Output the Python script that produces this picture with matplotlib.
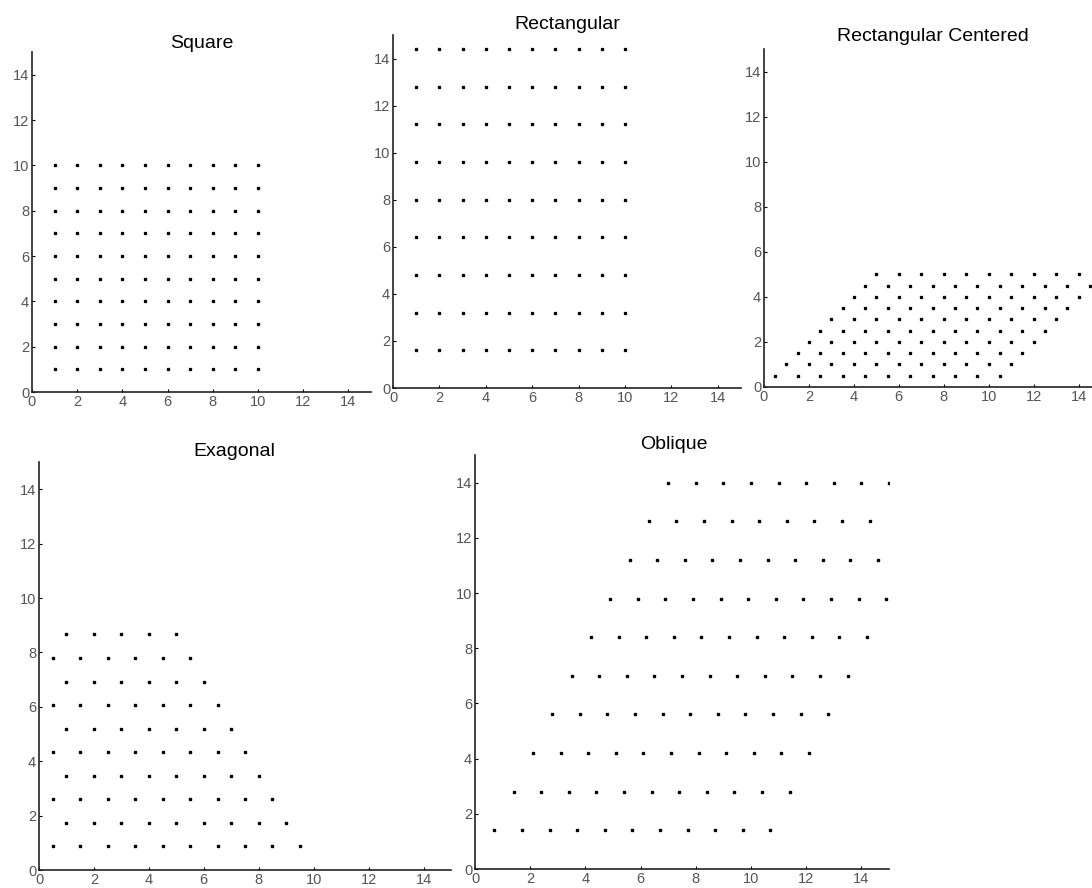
import numpy as np
import matplotlib
matplotlib.use("Agg")
import matplotlib.pyplot as plt

plt.rcParams["font.family"] = ["Liberation Sans", "DejaVu Sans"]

# square lattice: unit spacing
square_x = [1, 2, 3, 4, 5, 6, 7, 8, 9, 10]
square_y = [1, 2, 3, 4, 5, 6, 7, 8, 9, 10]

# rectangular lattice: unit spacing in x, 1.6 in y
rect_x = [1, 2, 3, 4, 5, 6, 7, 8, 9, 10]
rect_y = [1.6, 3.2, 4.8, 6.4, 8.0, 9.6, 11.2, 12.8, 14.4]

# remaining lattices as rows: (y, first x, last x), unit step along each row
centered_rows = [
    (0.5, 0.5, 10.5), (1.0, 1.0, 11.0), (1.5, 1.5, 11.5), (2.0, 2.0, 12.0),
    (2.5, 2.5, 12.5), (3.0, 3.0, 13.0), (3.5, 3.5, 13.5), (4.0, 4.0, 14.0),
    (4.5, 4.5, 14.5), (5.0, 5.0, 15.0),
]
hex_rows = [
    (0.87, 0.5, 9.5), (1.73, 1.0, 9.0), (2.60, 0.5, 8.5), (3.46, 1.0, 8.0),
    (4.33, 0.5, 7.5), (5.20, 1.0, 7.0), (6.06, 0.5, 6.5), (6.93, 1.0, 6.0),
    (7.79, 0.5, 5.5), (8.66, 1.0, 5.0),
]
oblique_rows = [
    (1.4, 0.7, 10.7), (2.8, 1.4, 11.4), (4.2, 2.1, 12.1), (5.6, 2.8, 12.8),
    (7.0, 3.5, 13.5), (8.4, 4.2, 14.2), (9.8, 4.9, 14.9), (11.2, 5.6, 15.6),
    (12.6, 6.3, 16.3), (14.0, 7.0, 17.0),
]


def rows_to_points(rows):
    xs, ys = [], []
    for y, x0, x1 in rows:
        row = np.arange(x0, x1 + 0.01, 1.0)
        xs.extend(row)
        ys.extend([y] * len(row))
    return np.array(xs), np.array(ys)


W, H = 1092, 888
fig = plt.figure(figsize=(W / 100, H / 100), dpi=100)


def make_axes(left, top, right, bottom):
    return fig.add_axes([left / W, 1 - bottom / H, (right - left) / W, (bottom - top) / H])


def style(ax, title, pad, tx=0.5):
    ax.set_xlim(0, 15)
    ax.set_ylim(0, 15)
    ax.set_xticks(range(0, 15, 2))
    ax.set_yticks(range(0, 15, 2))
    for s in ("top", "right"):
        ax.spines[s].set_visible(False)
    for s in ("left", "bottom"):
        ax.spines[s].set_linewidth(1.2)
        ax.spines[s].set_color("#222222")
    ax.tick_params(direction="in", length=2.5, width=0.8, labelsize=10.5,
                   labelcolor="#555555", pad=2)
    ax.set_title(title, fontsize=14, pad=pad, x=tx)


ax1 = make_axes(32, 52, 371, 392)
gx, gy = np.meshgrid(square_x, square_y)
ax1.plot(gx.ravel(), gy.ravel(), "ks", ms=1.4, ls="none")
style(ax1, "Square", 2)

ax2 = make_axes(393, 35, 741, 388)
gx, gy = np.meshgrid(rect_x, rect_y)
ax2.plot(gx.ravel(), gy.ravel(), "ks", ms=1.4, ls="none")
style(ax2, "Rectangular", 4)

ax3 = make_axes(764, 49, 1101, 387)
cx, cy = rows_to_points(centered_rows)
ax3.plot(cx, cy, "ks", ms=1.4, ls="none")
style(ax3, "Rectangular Centered", 5.5)

ax4 = make_axes(39, 462, 451, 870)
hx, hy = rows_to_points(hex_rows)
ax4.plot(hx, hy, "ks", ms=1.6, ls="none")
style(ax4, "Exagonal", 4, tx=0.475)

ax5 = make_axes(475, 455, 889, 869)
ox, oy = rows_to_points(oblique_rows)
ax5.plot(ox, oy, "ks", ms=1.6, ls="none")
style(ax5, "Oblique", 4, tx=0.48)

fig.savefig("out.png", dpi=100)
